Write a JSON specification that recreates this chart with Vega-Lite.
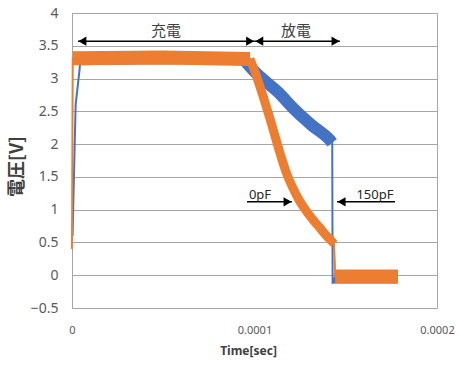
{
  "$schema": "https://vega.github.io/schema/vega-lite/v6.json",
  "width": 365,
  "height": 295,
  "autosize": "none",
  "padding": {"left": 72, "top": 13, "right": 22, "bottom": 69},
  "background": "white",
  "config": {
    "view": {"stroke": "#a6a6a6", "strokeWidth": 1},
    "axis": {"domain": false, "ticks": false, "labelFlush": false, "labelOverlap": false, "labelBound": false}
  },
  "datasets": {
    "series": [
      {"s": "150pF", "phase": "rise", "t": 0.0000003, "v": 0.6},
      {"s": "150pF", "phase": "rise", "t": 0.000002, "v": 2.6},
      {"s": "150pF", "phase": "rise", "t": 0.0000042, "v": 3.15},
      {"s": "150pF", "phase": "charge", "t": 0.0000045, "v": 3.28},
      {"s": "150pF", "phase": "charge", "t": 0.00005, "v": 3.3},
      {"s": "150pF", "phase": "charge", "t": 0.0000945, "v": 3.28},
      {"s": "150pF", "phase": "discharge", "t": 0.0000945, "v": 3.28},
      {"s": "150pF", "phase": "discharge", "t": 0.0001003, "v": 3.1},
      {"s": "150pF", "phase": "discharge", "t": 0.000113, "v": 2.79},
      {"s": "150pF", "phase": "discharge", "t": 0.0001222, "v": 2.52},
      {"s": "150pF", "phase": "discharge", "t": 0.0001313, "v": 2.29},
      {"s": "150pF", "phase": "discharge", "t": 0.0001414, "v": 2.06},
      {"s": "150pF", "phase": "discharge", "t": 0.0001426, "v": 2.02},
      {"s": "150pF", "phase": "drop", "t": 0.0001428, "v": -0.13},
      {"s": "150pF", "phase": "off", "t": 0.0001435, "v": -0.05},
      {"s": "150pF", "phase": "off", "t": 0.0001786, "v": -0.05},
      {"s": "0pF", "phase": "rise", "t": 0.0, "v": 0.4},
      {"s": "0pF", "phase": "rise", "t": 0.0000004, "v": 3.31},
      {"s": "0pF", "phase": "charge", "t": 0.0000004, "v": 3.31},
      {"s": "0pF", "phase": "charge", "t": 0.00005, "v": 3.32},
      {"s": "0pF", "phase": "charge", "t": 0.0000975, "v": 3.3},
      {"s": "0pF", "phase": "discharge", "t": 0.0000975, "v": 3.3},
      {"s": "0pF", "phase": "discharge", "t": 0.0001003, "v": 3.1},
      {"s": "0pF", "phase": "discharge", "t": 0.0001039, "v": 2.8},
      {"s": "0pF", "phase": "discharge", "t": 0.0001094, "v": 2.3},
      {"s": "0pF", "phase": "discharge", "t": 0.000114, "v": 1.86},
      {"s": "0pF", "phase": "discharge", "t": 0.0001175, "v": 1.56},
      {"s": "0pF", "phase": "discharge", "t": 0.0001212, "v": 1.32},
      {"s": "0pF", "phase": "discharge", "t": 0.0001248, "v": 1.13},
      {"s": "0pF", "phase": "discharge", "t": 0.0001286, "v": 0.97},
      {"s": "0pF", "phase": "discharge", "t": 0.0001322, "v": 0.84},
      {"s": "0pF", "phase": "discharge", "t": 0.0001359, "v": 0.72},
      {"s": "0pF", "phase": "discharge", "t": 0.0001395, "v": 0.6},
      {"s": "0pF", "phase": "discharge", "t": 0.0001423, "v": 0.52},
      {"s": "0pF", "phase": "discharge", "t": 0.0001435, "v": 0.48},
      {"s": "0pF", "phase": "drop", "t": 0.000144, "v": 0.2},
      {"s": "0pF", "phase": "off", "t": 0.0001442, "v": -0.02},
      {"s": "0pF", "phase": "off", "t": 0.0001786, "v": -0.02}
    ],
    "arrows": [
      {"a": "充電", "t1": 0.0000033, "t2": 0.0001, "v": 3.57},
      {"a": "放電", "t1": 0.0001, "t2": 0.0001468, "v": 3.57},
      {"a": "0pF", "t1": 0.0000959, "t2": 0.0001205, "v": 1.12},
      {"a": "150pF", "t1": 0.0001452, "t2": 0.000177, "v": 1.12}
    ],
    "heads": [
      {"t": 0.0000057, "v": 3.57, "dir": "left"},
      {"t": 0.0000976, "v": 3.57, "dir": "right"},
      {"t": 0.0001026, "v": 3.57, "dir": "left"},
      {"t": 0.0001444, "v": 3.57, "dir": "right"},
      {"t": 0.0001181, "v": 1.12, "dir": "right"},
      {"t": 0.0001477, "v": 1.12, "dir": "left"}
    ],
    "phases": [
      {"txt": "充電", "t": 0.0000515, "v": 3.72},
      {"txt": "放電", "t": 0.0001227, "v": 3.72}
    ],
    "caps": [
      {"txt": "0pF", "t": 0.000103, "v": 1.16},
      {"txt": "150pF", "t": 0.000166, "v": 1.16}
    ]
  },
  "encoding": {
    "x": {
      "field": "t", "type": "quantitative",
      "scale": {"domain": [0, 0.0002], "nice": false, "zero": false},
      "axis": {
        "values": [0, 0.0001, 0.0002], "format": ".4~f", "grid": false,
        "labelFont": "Noto Sans", "labelFontSize": 11, "labelColor": "#595959", "labelPadding": 16,
        "title": "Time[sec]", "titleFont": "Noto Sans", "titleFontSize": 12, "titleFontWeight": "bold",
        "titleColor": "#404040", "titleX": 176, "titleY": 42, "titleBaseline": "middle", "titleAlign": "center"
      }
    },
    "y": {
      "field": "v", "type": "quantitative",
      "scale": {"domain": [-0.5, 4], "nice": false, "zero": false},
      "axis": {
        "values": [-0.5, 0, 0.5, 1, 1.5, 2, 2.5, 3, 3.5, 4], "format": ".1~f", "grid": true,
        "gridColor": "#a6a6a6", "gridWidth": 1,
        "labelFont": "Noto Sans", "labelFontSize": 14, "labelColor": "#595959", "labelPadding": 14,
        "title": "電圧[V]", "titleFont": "Noto Sans CJK JP", "titleFontSize": 18, "titleFontWeight": "bold",
        "titleColor": "#404040", "titleX": -55, "titleY": 153, "titleBaseline": "middle", "titleAlign": "center", "titleAngle": -90
      }
    }
  },
  "layer": [
    {
      "data": {"name": "series"},
      "transform": [{"filter": "datum.s == '150pF'"}],
      "mark": {"type": "line", "color": "#4472c4", "strokeWidth": 2},
      "encoding": {"order": {"field": "t"}}
    },
    {
      "data": {"name": "series"},
      "transform": [{"filter": "datum.s == '150pF' && (datum.phase == 'charge' || datum.phase == 'off')"}],
      "mark": {"type": "line", "color": "#4472c4", "strokeWidth": 10, "strokeJoin": "round"},
      "encoding": {"detail": {"field": "phase"}}
    },
    {
      "data": {"name": "series"},
      "transform": [{"filter": "datum.s == '150pF' && datum.phase == 'discharge'"}],
      "mark": {"type": "line", "color": "#4472c4", "strokeWidth": 12, "strokeJoin": "round", "interpolate": "monotone"},
      "encoding": {}
    },
    {
      "data": {"name": "series"},
      "transform": [{"filter": "datum.s == '0pF'"}],
      "mark": {"type": "line", "color": "#ed7d31", "strokeWidth": 2},
      "encoding": {"order": {"field": "t"}}
    },
    {
      "data": {"name": "series"},
      "transform": [{"filter": "datum.s == '0pF' && (datum.phase == 'charge' || datum.phase == 'off')"}],
      "mark": {"type": "line", "color": "#ed7d31", "strokeWidth": 14, "strokeJoin": "round"},
      "encoding": {"detail": {"field": "phase"}}
    },
    {
      "data": {"name": "series"},
      "transform": [{"filter": "datum.s == '0pF' && datum.phase == 'discharge'"}],
      "mark": {"type": "line", "color": "#ed7d31", "strokeWidth": 9, "strokeJoin": "round", "interpolate": "monotone"},
      "encoding": {}
    },
    {
      "data": {"name": "arrows"},
      "mark": {"type": "rule", "color": "#000000", "strokeWidth": 1.6},
      "encoding": {
        "x": {"field": "t1", "type": "quantitative"},
        "x2": {"field": "t2"},
        "y": {"field": "v", "type": "quantitative"}
      }
    },
    {
      "data": {"name": "heads"},
      "mark": {"type": "point", "filled": true, "color": "#000000", "size": 85, "opacity": 1},
      "encoding": {
        "shape": {"field": "dir", "type": "nominal", "scale": {"domain": ["left", "right"], "range": ["triangle-left", "triangle-right"]}, "legend": null}
      }
    },
    {
      "data": {"name": "phases"},
      "mark": {"type": "text", "font": "Noto Sans CJK JP", "fontSize": 15, "color": "#404040", "baseline": "middle", "align": "center"},
      "encoding": {"text": {"field": "txt"}}
    },
    {
      "data": {"name": "caps"},
      "mark": {"type": "text", "font": "Noto Sans", "fontSize": 13, "color": "#262626", "baseline": "alphabetic", "align": "center"},
      "encoding": {"text": {"field": "txt"}}
    }
  ]
}
